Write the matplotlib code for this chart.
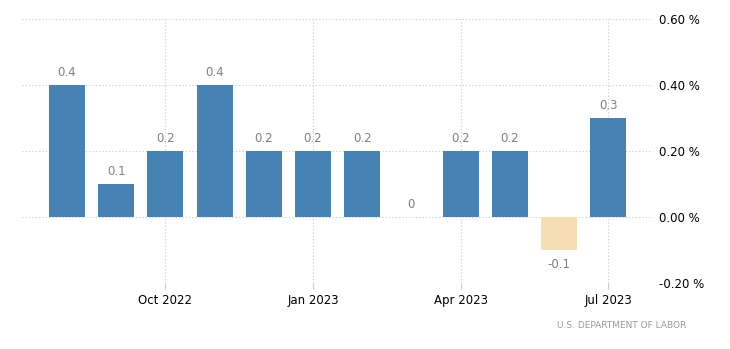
import numpy as np
import matplotlib.pyplot as plt

# monthly change, Aug 2022 .. Jul 2023
months = ['Aug 2022', 'Sep 2022', 'Oct 2022', 'Nov 2022', 'Dec 2022', 'Jan 2023',
          'Feb 2023', 'Mar 2023', 'Apr 2023', 'May 2023', 'Jun 2023', 'Jul 2023']
values = [0.4, 0.1, 0.2, 0.4, 0.2, 0.2, 0.2, 0.0, 0.2, 0.2, -0.1, 0.3]
labels = ['0.4', '0.1', '0.2', '0.4', '0.2', '0.2', '0.2', '0', '0.2', '0.2', '-0.1', '0.3']
tick_months = ['Oct 2022', 'Jan 2023', 'Apr 2023', 'Jul 2023']
yticks = [-0.2, 0.0, 0.2, 0.4, 0.6]

x = np.arange(len(months))
colors = ['#4682B4' if v >= 0 else '#F5DEB3' for v in values]

fig = plt.figure(figsize=(7.3, 3.49), dpi=100)
ax = fig.add_axes([22/730, 66/349, 630/730, 264/349])

ax.bar(x, values, width=0.73, color=colors, zorder=2)

for xi, v, lab in zip(x, values, labels):
    if v < 0:
        ax.annotate(lab, (xi, v), xytext=(0, -6), textcoords='offset points',
                    ha='center', va='top', fontsize=8.5, color='#808080')
    else:
        ax.annotate(lab, (xi, v), xytext=(0, 4.5), textcoords='offset points',
                    ha='center', va='bottom', fontsize=8.5, color='#808080')

ax.set_xlim(-0.915, 11.89)
ax.set_ylim(-0.2, 0.6)

tick_pos = [months.index(m) for m in tick_months]
ax.set_xticks(tick_pos)
ax.set_xticklabels(tick_months, fontsize=8.5)
ax.set_yticks(yticks)
ax.set_yticklabels(['%.2f %%' % t for t in yticks], fontsize=8.5)
ax.yaxis.tick_right()
ax.tick_params(axis='y', length=0, pad=5)
ax.tick_params(axis='x', length=4, color='#cccccc', pad=4)

ax.grid(True, linestyle=(0, (1, 2)), color='#c8c8c8', linewidth=0.8, zorder=0)
ax.set_axisbelow(True)
for s in ax.spines.values():
    s.set_visible(False)

fig.text(686/730, 1 - 325/349, 'U.S. DEPARTMENT OF LABOR', ha='right', va='center',
         fontsize=6.5, color='#999999')

fig.savefig('out.png', dpi=100)
